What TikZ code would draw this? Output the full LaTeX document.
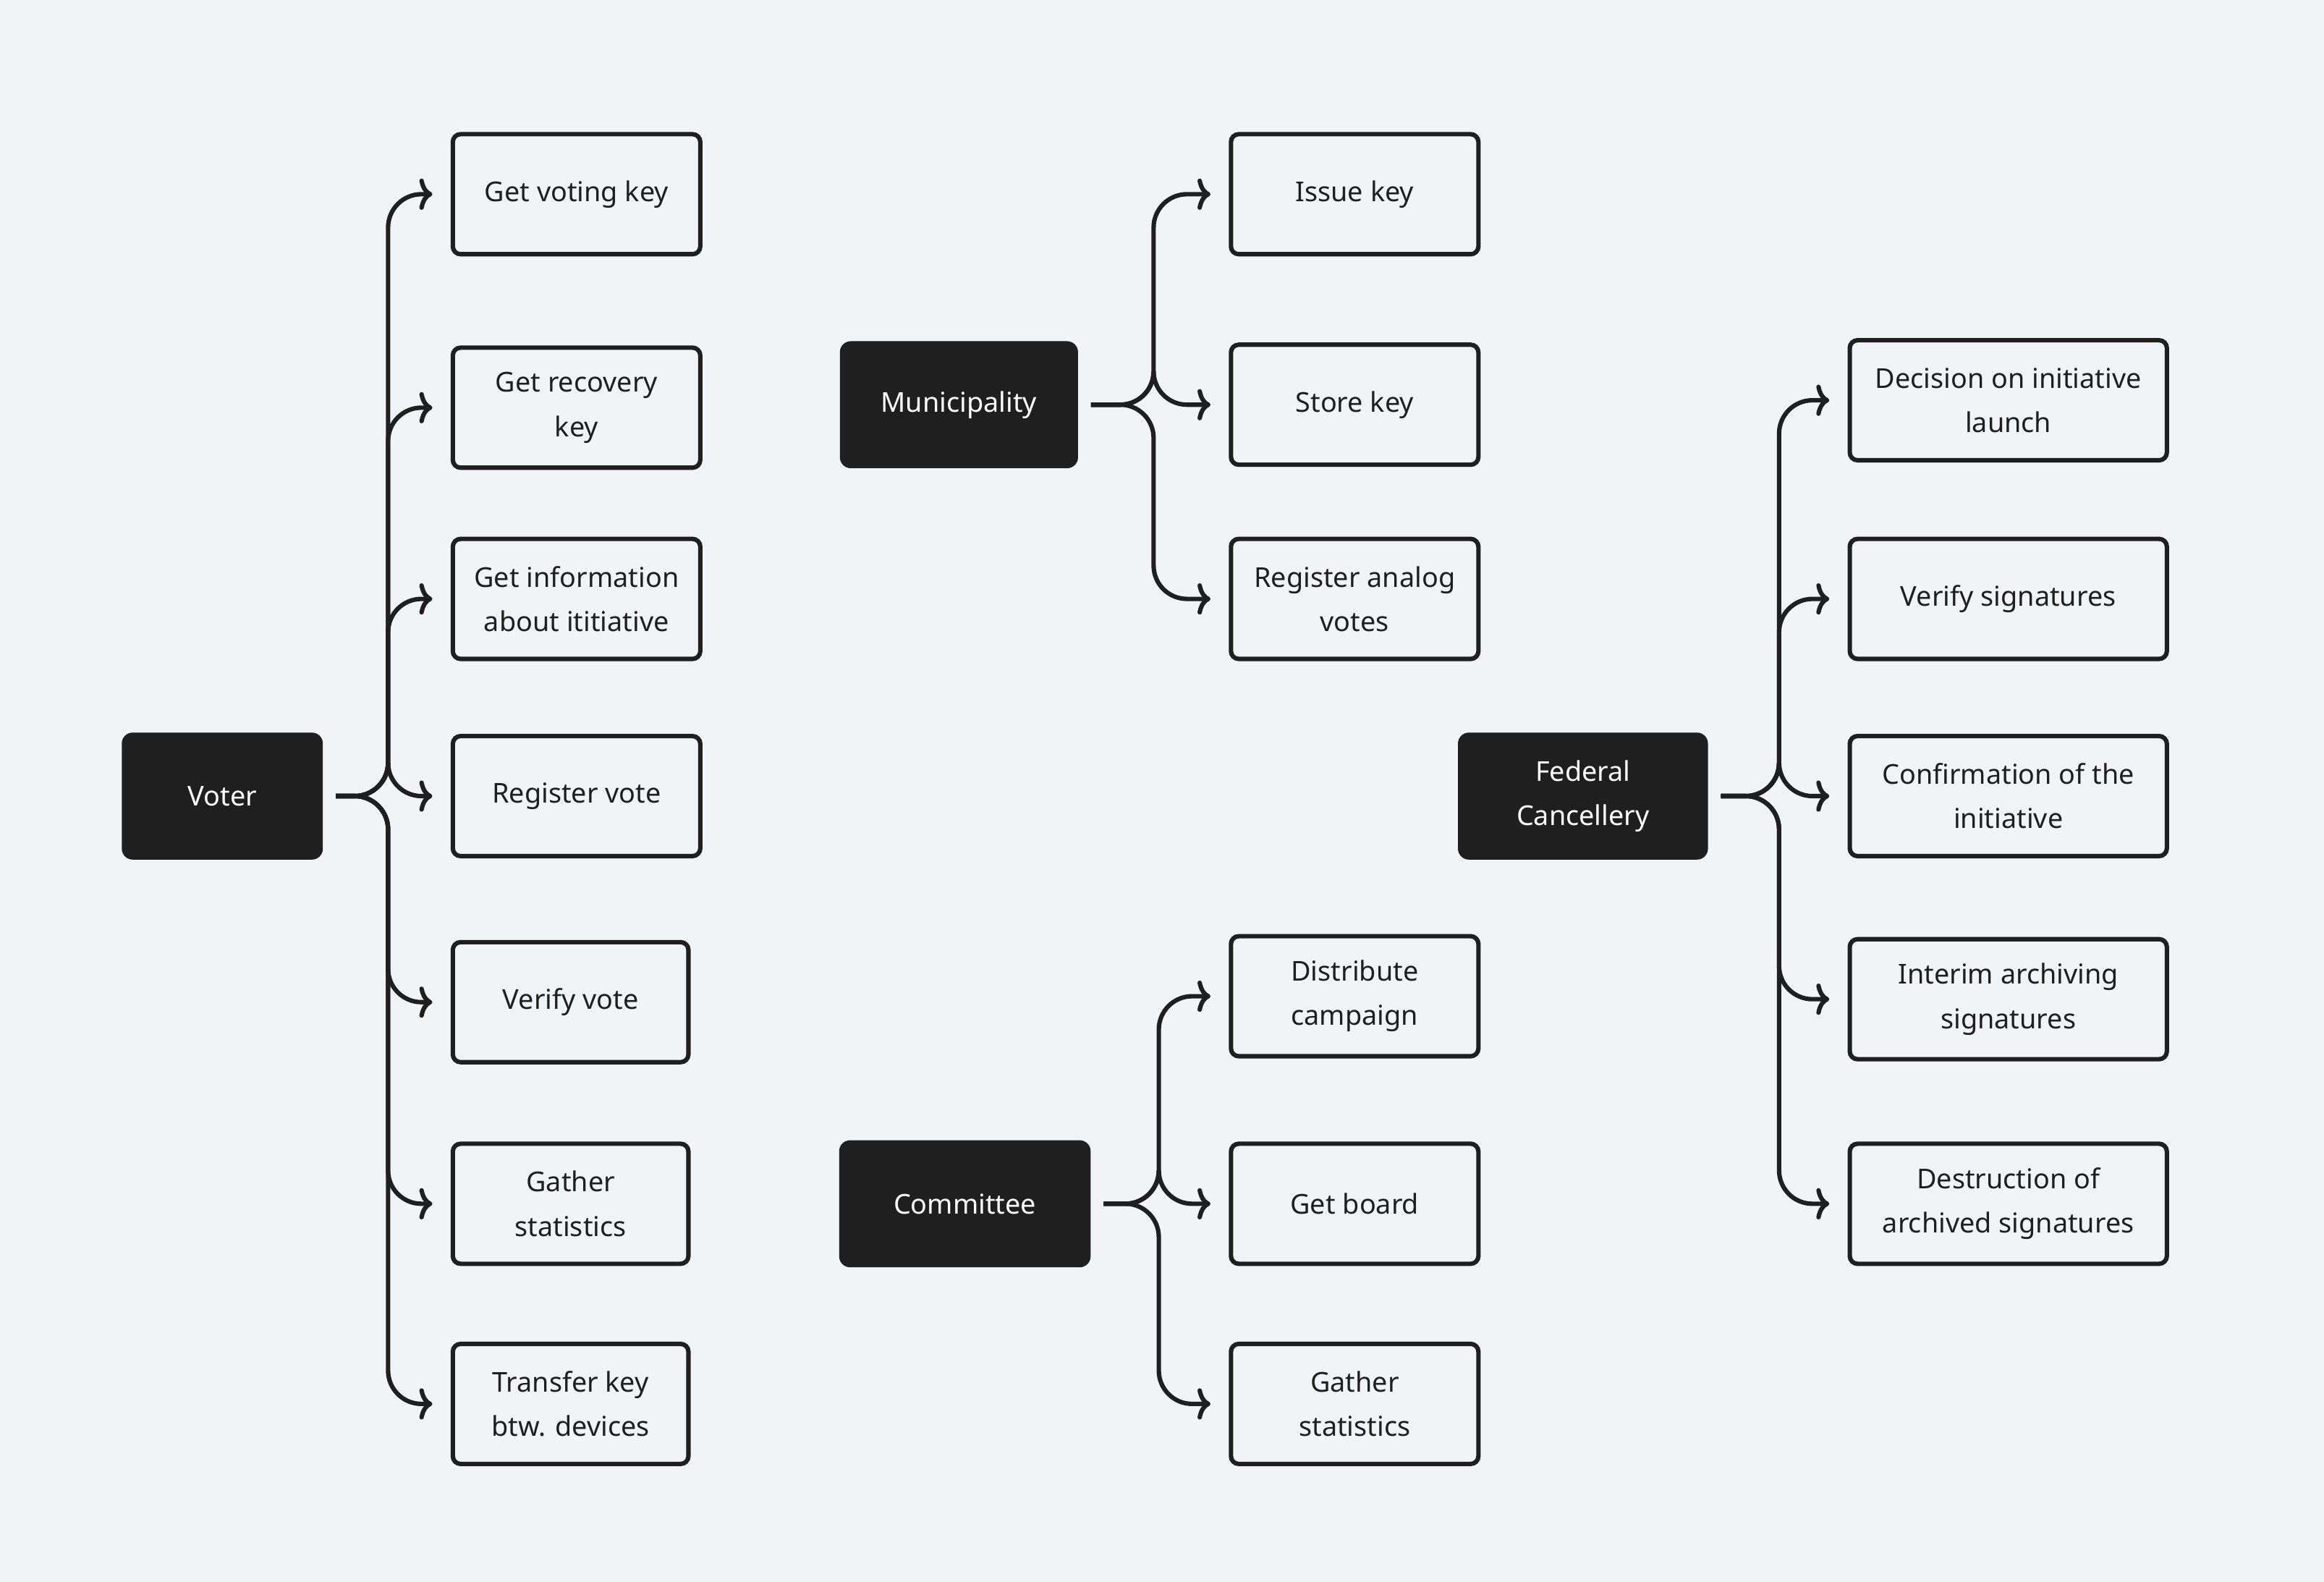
\documentclass[tikz,border=0pt]{standalone}
\usepackage{fontspec}
\setmainfont{Noto Sans}
\usetikzlibrary{calc,arrows.meta}
\definecolor{bgcol}{HTML}{F1F4F7}
\definecolor{inkcol}{HTML}{1F1F1F}
\tikzstyle{actor}=[fill=inkcol,draw=inkcol,rounded corners=4pt,text=white,align=center,minimum height=1.7cm,font=\fontsize{10.5}{17}\selectfont]
\tikzstyle{task}=[fill=bgcol,draw=inkcol,line width=1.7pt,rounded corners=3pt,align=center,minimum height=1.62cm,text=inkcol,font=\fontsize{10.5}{17}\selectfont]
\tikzstyle{branch}=[draw=inkcol,line width=1.7pt,rounded corners=0.45cm,-{To[length=5pt,width=12pt,line width=1.7pt]}]
% Syntax: {parent}{trunk x}{child}
\newcommand{\branchto}[3]{
	\draw[branch] ([xshift=5]#1.east) -- ($(#1.east)!0!(#1.east)+(#2,0)$) |- ([xshift=-7]#3.west);
}
\begin{document}
\begin{tikzpicture}[x=0.02cm,y=-0.02cm]
	\fill[bgcol] (0,0) rectangle (1568,1067);
	\useasboundingbox (0,0) rectangle (1568,1067);
	% actors
	\node[actor,minimum width=2.7cm] (voter) at (150,537) {Voter};
	\node[actor,minimum width=3.2cm] (muni) at (647,273) {Municipality};
	\node[actor,minimum width=3.38cm] (comm) at (651,812) {Committee};
	\node[actor,minimum width=3.36cm] (fed) at (1068,537) {Federal\\Cancellery};
	% voter tasks
	\foreach \i/\x/\y/\w/\t in {1/389/131/3.34/Get voting key, 2/389/275/3.34/Get recovery\\key, 3/389/404/3.34/Get information\\about ititiative, 4/389/537/3.34/Register vote, 5/385/676/3.18/Verify vote, 6/385/812/3.18/Gather\\statistics, 7/385/947/3.18/Transfer key\\btw. devices} {
		\node[task,minimum width=\w cm] (v\i) at (\x,\y) {\t};
		\branchto{voter}{44}{v\i}
	}
	% municipality tasks
	\foreach \i/\y/\t in {1/131/Issue key, 2/273/Store key, 3/404/Register analog\\votes} {
		\node[task,minimum width=3.34cm] (m\i) at (914,\y) {\t};
		\branchto{muni}{51}{m\i}
	}
	% committee tasks
	\foreach \i/\y/\t in {1/672/Distribute\\campaign, 2/812/Get board, 3/947/Gather\\statistics} {
		\node[task,minimum width=3.34cm] (c\i) at (914,\y) {\t};
		\branchto{comm}{46}{c\i}
	}
	% cancellery tasks
	\foreach \i/\y/\t in {1/270/Decision on initiative\\launch, 2/404/Verify signatures, 3/537/Confirmation of the\\initiative, 4/674/Interim archiving\\signatures, 5/812/Destruction of\\archived signatures} {
		\node[task,minimum width=4.28cm] (f\i) at (1355,\y) {\t};
		\branchto{fed}{48}{f\i}
	}
\end{tikzpicture}
\end{document}
